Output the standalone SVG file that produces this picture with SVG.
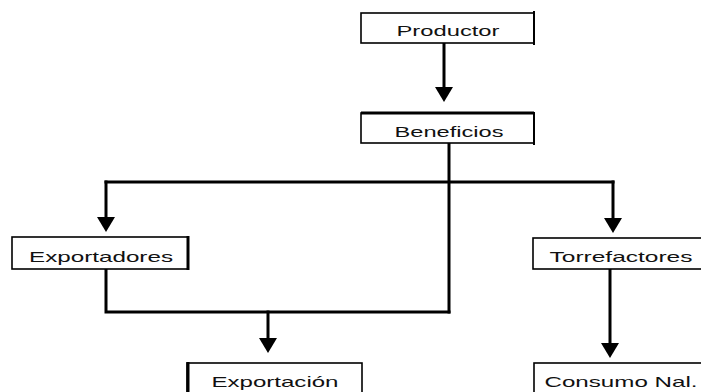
<svg xmlns="http://www.w3.org/2000/svg" width="701" height="392" viewBox="0 0 701 392">
<style>
.box{fill:#fff;stroke:#000;stroke-width:1.6}
.edge{stroke:#000;stroke-width:3;fill:none}
.lbl{font-family:"Liberation Sans",Arial,sans-serif;font-size:15px;fill:#111;text-anchor:middle}
.conn{stroke:#000;stroke-width:3;fill:none;stroke-linecap:square}
</style>
<defs>
<marker id="ah" markerUnits="userSpaceOnUse" markerWidth="16" markerHeight="20" viewBox="0 0 16 20" refX="3" refY="10" orient="auto">
<path d="M0,1 L15,10 L0,19 z" fill="#000"/>
</marker>
</defs>
<g id="connectors">
<path class="conn" d="M444,44 V90" marker-end="url(#ah)"/>
<path class="conn" d="M449,144 V312"/>
<path class="conn" d="M106,182 H613"/>
<path class="conn" d="M106,182 V220" marker-end="url(#ah)"/>
<path class="conn" d="M613,182 V221" marker-end="url(#ah)"/>
<path class="conn" d="M106,270 V312 H449"/>
<path class="conn" d="M268,312 V341" marker-end="url(#ah)"/>
<path class="conn" d="M610,270 V346" marker-end="url(#ah)"/>
</g>
<g id="productor">
<rect class="box" x="361" y="13" width="173" height="30"/>
<line class="edge" x1="534" y1="11" x2="534" y2="45" style="stroke-width:2"/>
<text class="lbl" x="448" y="36" textLength="103" lengthAdjust="spacingAndGlyphs">Productor</text>
</g>
<g id="beneficios">
<rect class="box" x="361" y="113" width="173" height="30"/>
<line class="edge" x1="361" y1="113" x2="534" y2="113"/>
<line class="edge" x1="534" y1="112" x2="534" y2="145" style="stroke-width:2"/>
<text class="lbl" x="449" y="137" textLength="109" lengthAdjust="spacingAndGlyphs">Beneficios</text>
</g>
<g id="exportadores">
<rect class="box" x="12" y="237" width="176" height="32"/>
<line class="edge" x1="188" y1="236" x2="188" y2="270"/>
<text class="lbl" x="101" y="262" textLength="144" lengthAdjust="spacingAndGlyphs">Exportadores</text>
</g>
<g id="torrefactores">
<rect class="box" x="533" y="238" width="175" height="31"/>
<text class="lbl" x="621" y="262" textLength="143" lengthAdjust="spacingAndGlyphs">Torrefactores</text>
</g>
<g id="exportacion">
<rect class="box" x="187" y="363" width="175" height="40"/>
<line class="edge" x1="188" y1="362" x2="188" y2="392"/>
<text class="lbl" x="275" y="387" textLength="127" lengthAdjust="spacingAndGlyphs">Exportación</text>
</g>
<g id="consumo">
<rect class="box" x="534" y="363" width="175" height="40"/>
<text class="lbl" x="621" y="387" textLength="153" lengthAdjust="spacingAndGlyphs">Consumo Nal.</text>
</g>
</svg>
